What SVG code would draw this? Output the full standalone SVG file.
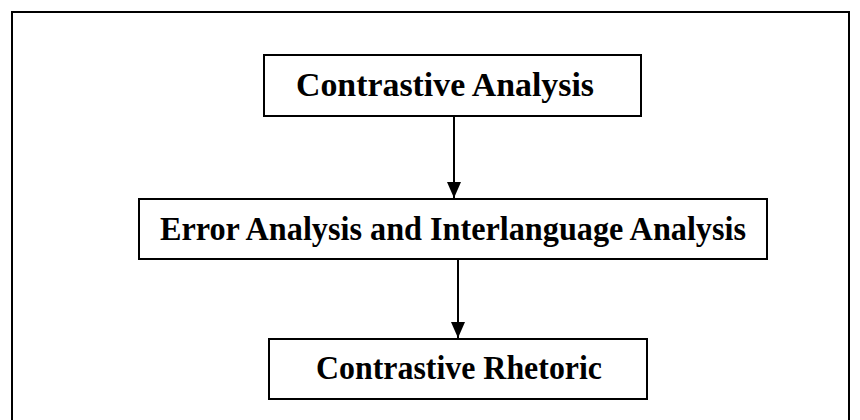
<svg xmlns="http://www.w3.org/2000/svg" width="860" height="420" viewBox="0 0 860 420">
  <defs>
    <marker id="arrowhead" viewBox="0 0 16 14" refX="16" refY="7" markerWidth="16" markerHeight="14" markerUnits="userSpaceOnUse" orient="auto">
      <path d="M0,0 L16,7 L0,14 Z" fill="#000"/>
    </marker>
    <style>
      .frame { fill: none; stroke: #000; stroke-width: 2; }
      .box { fill: #fff; stroke: #000; stroke-width: 2; }
      .label { font-family: "Liberation Serif", "Times New Roman", serif; font-weight: bold; font-size: 33px; fill: #000; text-anchor: middle; }
      .edge { stroke: #000; stroke-width: 2; fill: none; marker-end: url(#arrowhead); }
    </style>
  </defs>
  <rect width="860" height="420" fill="#fff"/>
  <!-- outer frame, open at the bottom edge -->
  <rect class="frame" x="12" y="12" width="837" height="420"/>

  <g id="connectors">
    <line class="edge" x1="454" y1="116" x2="454" y2="198"/>
    <line class="edge" x1="458" y1="259" x2="458" y2="338"/>
  </g>

  <g id="contrastive-analysis">
    <rect class="box" x="264" y="55" width="377" height="61"/>
    <text class="label" x="445" y="96" textLength="298" lengthAdjust="spacingAndGlyphs">Contrastive Analysis</text>
  </g>

  <g id="error-analysis">
    <rect class="box" x="139" y="199" width="628" height="60"/>
    <text class="label" x="453" y="240" textLength="586" lengthAdjust="spacingAndGlyphs">Error Analysis and Interlanguage Analysis</text>
  </g>

  <g id="contrastive-rhetoric">
    <rect class="box" x="269" y="339" width="378" height="60"/>
    <text class="label" x="459" y="379" textLength="286" lengthAdjust="spacingAndGlyphs">Contrastive Rhetoric</text>
  </g>
</svg>
